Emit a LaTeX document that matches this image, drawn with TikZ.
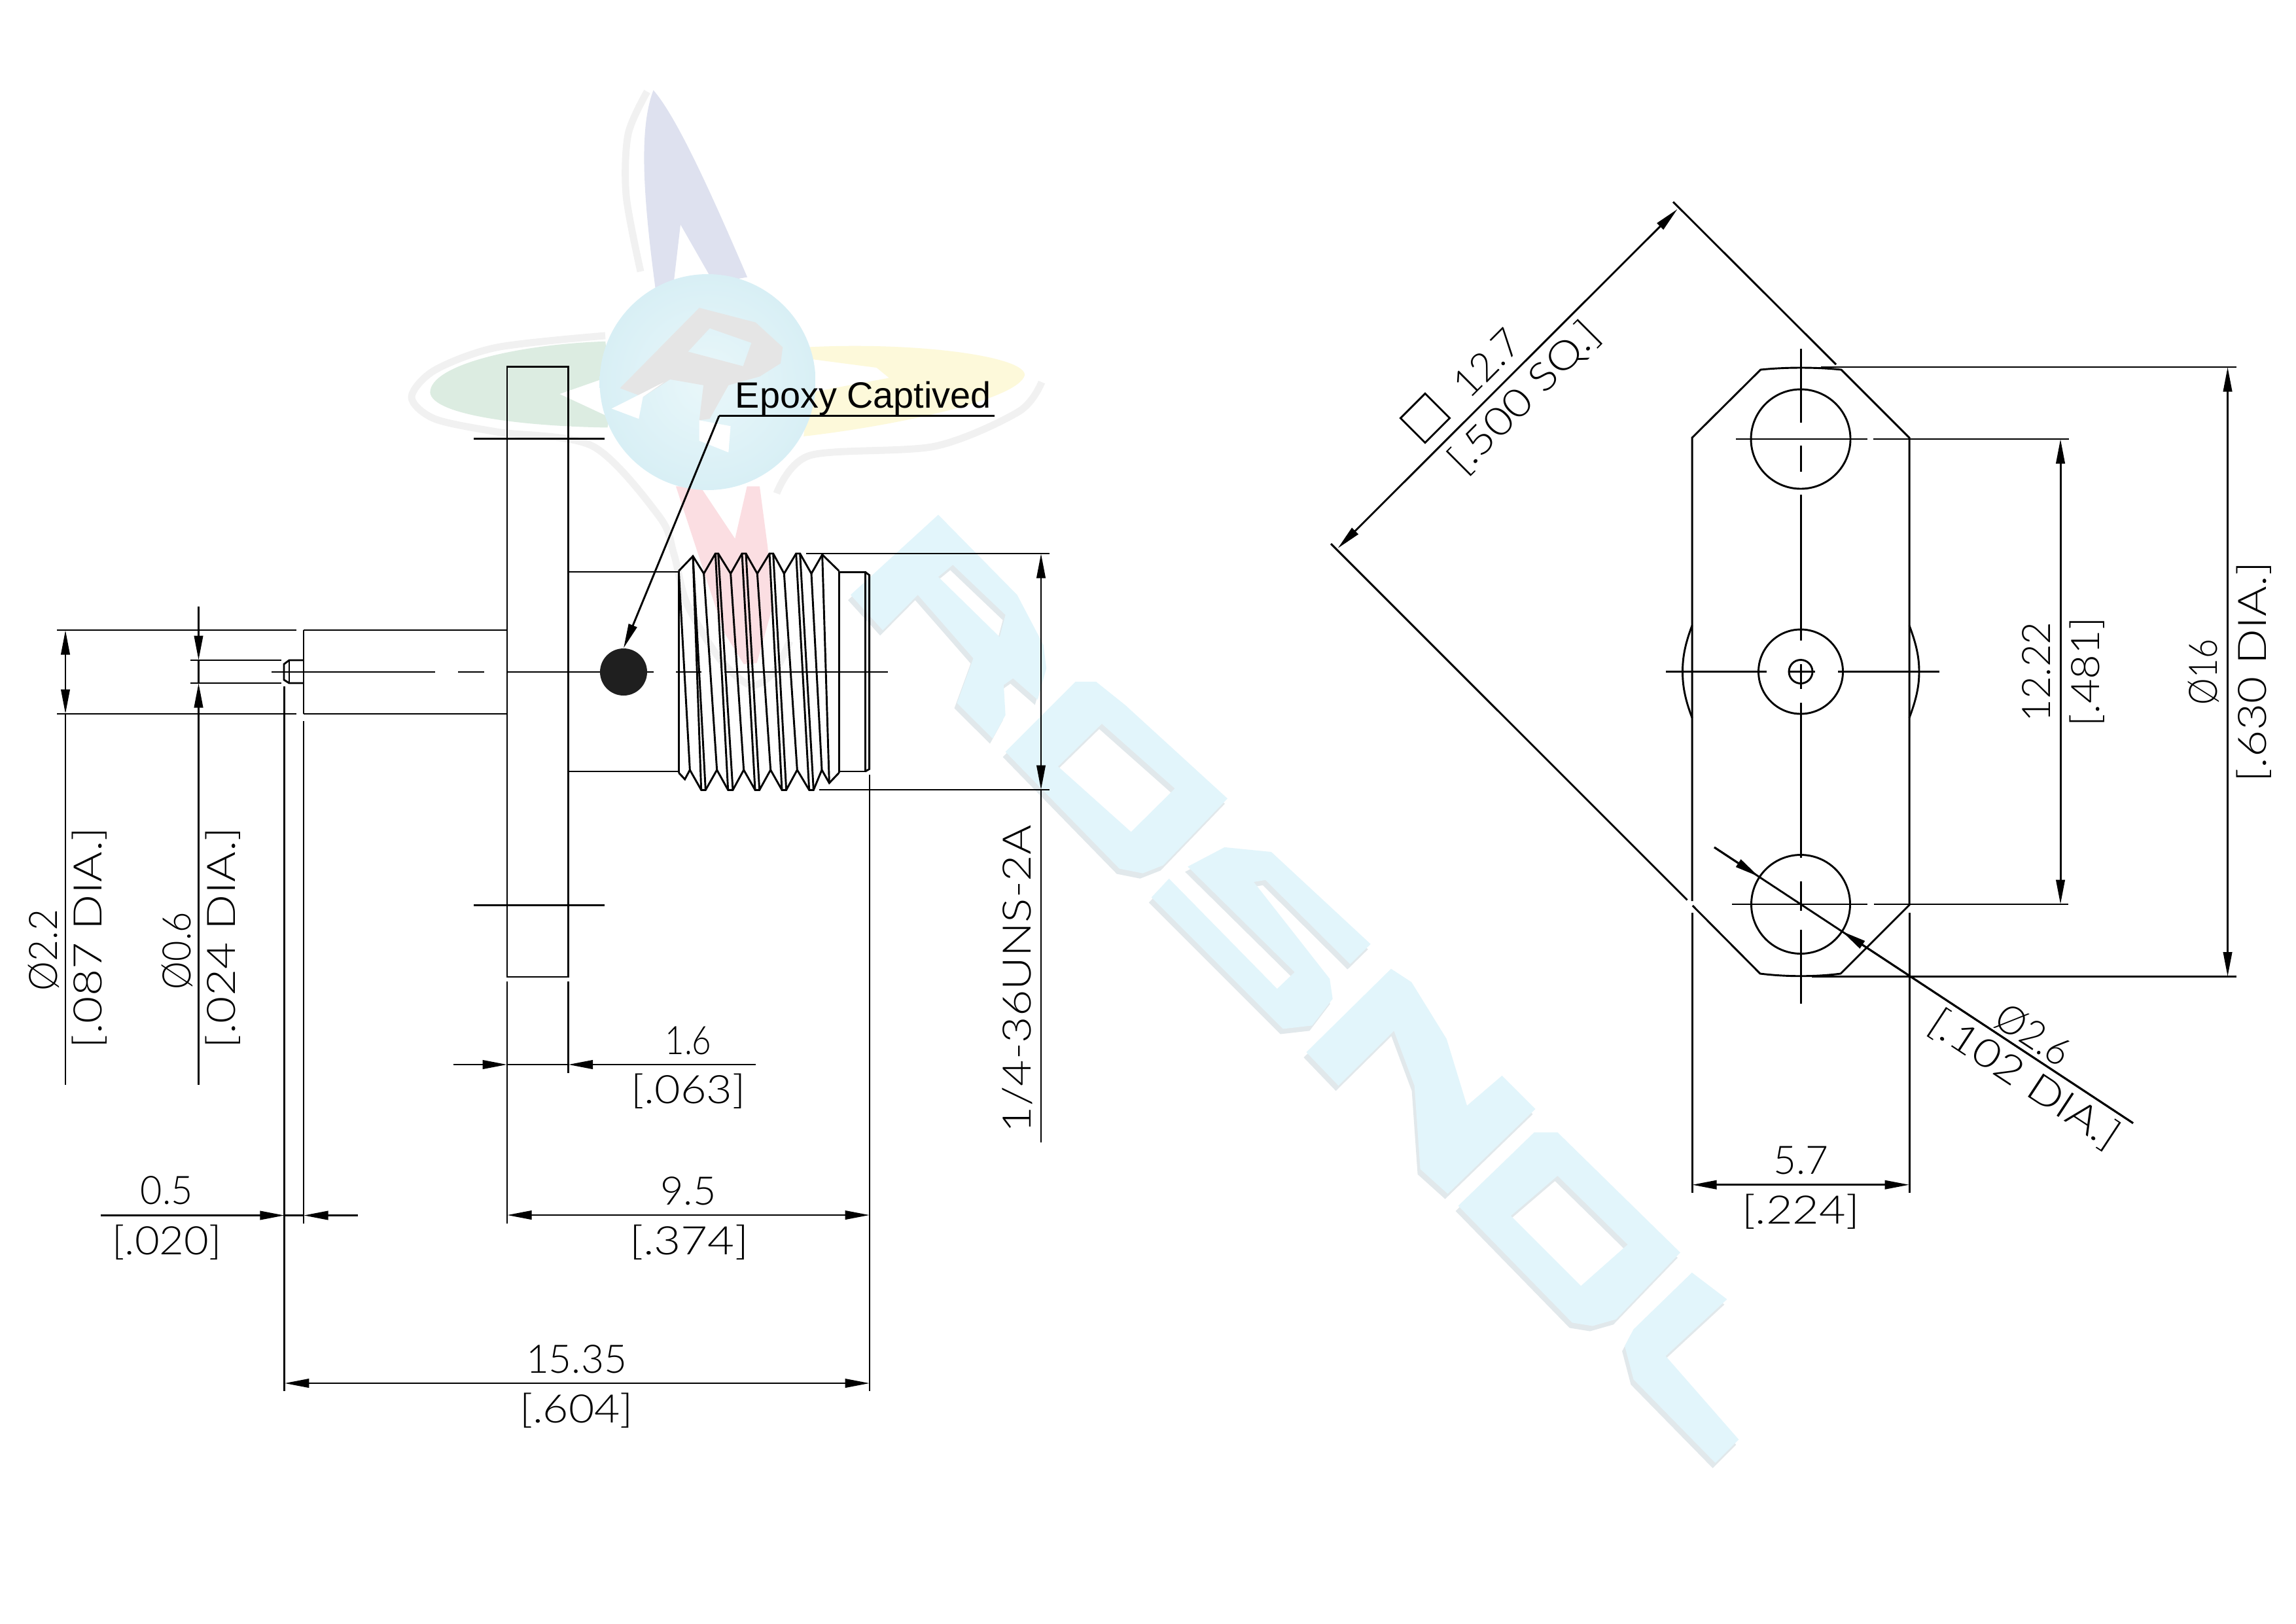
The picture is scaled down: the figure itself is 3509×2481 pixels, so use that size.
\documentclass[tikz,border=0pt]{standalone}
\usepackage{graphicx}
\usepackage{fontspec}
\usetikzlibrary{arrows.meta}
\newfontfamily\dimf{Lato Light}
\newfontfamily\epsf{Liberation Sans}
\newlength\pxu \setlength\pxu{.24pt}
\newlength\fitH
\newcommand\fit[2]{\setbox0=\hbox{\fontsize{14.4pt}{17pt}\dimf #2}\setlength\fitH{\ht0}\resizebox{#1\pxu}{\fitH}{\fontsize{14.4pt}{17pt}\dimf #2}}
\definecolor{wmcyan}{HTML}{E2F5FB}
\definecolor{wmshadow}{HTML}{E1E8EB}
\definecolor{wmblue}{HTML}{DEE1EF}
\definecolor{wmgreen}{HTML}{DCECE1}
\definecolor{wmyellow}{HTML}{FDF9DA}
\definecolor{wmpink}{HTML}{FBDEE2}
\definecolor{wmgrey}{HTML}{E5E5E5}
\definecolor{wmhalo}{HTML}{F1F1F1}
\definecolor{wmballin}{HTML}{E9F7FA}
\definecolor{wmballout}{HTML}{D8EFF5}
\tikzset{
  ln/.style={line width=.7pt,black,line cap=butt},
  dimtxt/.style={inner sep=0pt,text height=10.3pt,text depth=0pt,anchor=center},
  >={Triangle[length=9pt,width=3.2pt]},
  wmletter/.style={fill=wmcyan,even odd rule},
  wmshade/.style={fill=wmshadow,even odd rule}
}
\newcommand\letterR{(0,205) -- (150,85) -- (285,205) -- (330,280) -- (335,315) -- (320,362) -- (278,330) -- (262,340) -- (265,385) -- (243,420) -- (182,367) -- (210,300) -- (115,205) -- (55,258) -- cycle (175,160) -- (265,235) -- (255,268) -- (150,178) -- cycle}
\newcommand\letterO{(265,440) -- (385,335) -- (420,335) -- (470,370) -- (645,510) -- (535,610) -- (500,622) -- (460,615) -- cycle (355,462) -- (430,398) -- (555,495) -- (480,560) -- cycle}
\newcommand\letterS{(515,658) -- (740,855) -- (790,850) -- (825,810) -- (820,780) -- (690,635) -- (710,632) -- (855,758) -- (890,728) -- (720,590) -- (640,583) -- (577,612) -- (760,770) -- (730,795) -- (545,630) -- cycle}
\newcommand\letterN{(780,890) -- (925,765) -- (960,785) -- (1020,870) -- (1055,970) -- (1115,925) -- (1172,975) -- (1022,1102) -- (975,1065) -- (965,940) -- (930,858) -- (835,940) -- cycle}
\newcommand\letterOO{(1040,1120) -- (1170,1010) -- (1210,1010) -- (1420,1190) -- (1310,1290) -- (1270,1300) -- (1235,1295) -- cycle (1130,1135) -- (1210,1075) -- (1330,1178) -- (1250,1240) -- cycle}
\newcommand\letterL{(1440,1220) -- (1500,1260) -- (1395,1345) -- (1520,1470) -- (1480,1505) -- (1340,1380) -- (1325,1330) -- (1340,1305) -- cycle}
\begin{document}
\begin{tikzpicture}[x=.24pt,y=-.24pt]
\useasboundingbox (0,0) rectangle (3509,2481);
\fill[white] (0,0) rectangle (3509,2481);

% ---- watermark: logo halo
\draw[wmhalo,line width=2.6pt] plot[smooth] coordinates {(989,140) (960,205) (957,299) (979,415)};
\draw[wmhalo,line width=2.6pt] plot[smooth] coordinates {(925,513) (759,531) (664,566) (629,607) (664,640) (759,660) (906,682) (1008,790) (1030,847) (1050,923) (1100,1007) (1147,1047) (1183,1027) (1207,980)};
\draw[wmhalo,line width=2.6pt] plot[smooth] coordinates {(1187,754) (1238,696) (1429,682) (1557,629) (1592,584)};

\begin{scope}[shift={(600,120)},xscale=1/1.568,yscale=1/2.24]
  \fill[wmblue] (625,40) .. controls (680,130) and (760,380) .. (850,680) -- (770,700) -- (690,500) -- (672,720) -- (630,720) .. controls (600,400) and (590,170) .. (625,40) -- cycle;
  \fill[wmgreen] (510,900) .. controls (300,910) and (90,980) .. (90,1075) .. controls (95,1150) and (300,1190) .. (515,1195) -- (520,1160) -- (400,1080) -- (520,1020) -- cycle;
  \fill[wmyellow] (990,920) .. controls (1250,900) and (1515,950) .. (1515,1015) .. controls (1500,1100) and (1200,1190) .. (985,1225) -- (1000,1075) -- (1190,1025) -- (1160,990) -- (1000,960) -- cycle;
\end{scope}
\begin{scope}[shift={(950,780)},scale=1/3]
  \fill[wmpink] (249,-110) -- (360,-110) -- (520,130) -- (575,-110) -- (633,-110) -- (670,170) -- (690,450) -- (620,700) -- (560,705) -- (470,560) -- (400,350) -- cycle;
\end{scope}
\shade[inner color=wmballin,outer color=wmballout] (1081.5,584) circle[radius=165];
\begin{scope}[shift={(600,120)},xscale=1/1.568,yscale=1/2.24]
  \fill[wmgrey,even odd rule] (545,1060) -- (735,785) -- (870,835) -- (935,920) -- (930,975) -- (880,1020) -- (805,1050) -- (760,1165) -- (735,1170) -- (745,1050) -- (665,1030) -- (600,1090) -- cycle (760,855) -- (860,905) -- (840,985) -- (708,935) -- cycle;
  \fill[white] (525,1130) -- (650,1040) -- (600,1090) -- (590,1165) -- cycle;
  \fill[white] (735,1170) -- (810,1190) -- (805,1280) -- (735,1240) -- cycle;
\end{scope}

% ---- watermark: ROSNOL
\begin{scope}[shift={(1296,708)},xscale=1/1.12,yscale=1/.98]
  \fill[wmshade] \letterR; \fill[wmshade] \letterO; \fill[wmshade] \letterS;
  \fill[wmshade] \letterN; \fill[wmshade] \letterOO; \fill[wmshade] \letterL;
\end{scope}
\begin{scope}[shift={(1300,700)},xscale=1/1.12,yscale=1/.98]
  \fill[wmletter] \letterR; \fill[wmletter] \letterO; \fill[wmletter] \letterS;
  \fill[wmletter] \letterN; \fill[wmletter] \letterOO; \fill[wmletter] \letterL;
\end{scope}

% ---- side view
\begin{scope}[ln]
\draw (775,560.6) rectangle (868.5,1493);
\draw (724,670.4) -- (924,670.4);
\draw (724,1383.6) -- (924,1383.6);
\draw (464,963) -- (775,963);
\draw (464,1091) -- (775,1091);
\draw (464,963) -- (464,1091);
\draw (464,1009) -- (442,1009) -- (434,1015) -- (434,1039) -- (442,1044) -- (464,1044);
\draw (442,1009) -- (442,1044);
\draw (868.5,874) -- (1037,874);
\draw (868.5,1179) -- (1037,1179);
% centre line
\draw (415,1027) -- (665,1027);
\draw (700,1027) -- (739.5,1027);
\draw (776,1027) -- (998.5,1027);
\draw (1033,1027) -- (1072,1027);
\draw (1107,1027) -- (1357,1027);
\end{scope}
\fill[black!88] (953,1027) circle[radius=36];

% thread
\begin{scope}[shift={(950,780)},scale=1/3,ln]
\draw (262,278) -- (327,210) -- (377,290) -- (430,198) -- (443,198) -- (500,290) -- (552,198) -- (570,198) -- (622,290) -- (678,198) -- (695,198) -- (745,290) -- (800,198) -- (818,198) -- (870,290) -- (920,203) -- (997,278);
\draw (262,1203) -- (290,1233) -- (313,1190) -- (365,1282) -- (385,1282) -- (437,1190) -- (488,1282) -- (510,1282) -- (560,1190) -- (612,1282) -- (632,1282) -- (683,1190) -- (735,1282) -- (755,1282) -- (805,1190) -- (860,1282) -- (880,1282) -- (918,1190) -- (952,1250) -- (997,1203);
\draw (262,278) -- (262,1203);
\draw (262,278) -- (313,1190);
\draw (377,290) -- (437,1190);
\draw (500,290) -- (560,1190);
\draw (622,290) -- (683,1190);
\draw (745,290) -- (805,1190);
\draw (870,290) -- (918,1190);
\draw (327,210) -- (365,1282);
\draw (327,210) -- (385,1282);
\draw (430,198) -- (488,1282);
\draw (443,198) -- (510,1282);
\draw (552,198) -- (612,1282);
\draw (570,198) -- (632,1282);
\draw (678,198) -- (735,1282);
\draw (695,198) -- (755,1282);
\draw (800,198) -- (860,1282);
\draw (818,198) -- (880,1282);
\draw (920,203) -- (952,1250);
\draw (997,278) -- (997,1203);
\draw (997,283) -- (1117,283) -- (1117,1197) -- (997,1197);
\draw (1117,283) -- (1136,297) -- (1136,1186) -- (1117,1197);
\end{scope}

% side view dimensions
\begin{scope}[ln]
\draw (87,963) -- (453,963);
\draw (87,1091) -- (453,1091);
\draw[<->] (100,963) -- (100,1091);
\draw (100,1091) -- (100,1658);
\draw (291,1009) -- (430,1009);
\draw (291,1044) -- (430,1044);
\draw[->] (303.5,927) -- (303.5,1009);
\draw[->] (303.5,1658) -- (303.5,1044);
\draw (303.5,1009) -- (303.5,1044);
\draw (434.8,1049) -- (434.8,2126);
\draw (464,1102) -- (464,1870);
\draw (775,1500) -- (775,1870);
\draw (868.5,1500) -- (868.5,1640);
\draw (1329,1184) -- (1329,2126);
\draw[->] (154,1857.5) -- (434.8,1857.5);
\draw[->] (547,1857.5) -- (464,1857.5);
\draw (434.8,1857.5) -- (464,1857.5);
\draw[->] (692.5,1627) -- (775,1627);
\draw[->] (1155,1627) -- (868.5,1627);
\draw (775,1627) -- (868.5,1627);
\draw[<->] (775,1857) -- (1329,1857);
\draw[<->] (434.8,2114) -- (1329,2114);
\draw (1232,846) -- (1604,846);
\draw (1252,1207) -- (1604,1207);
\draw[<->] (1591,846) -- (1591,1207);
\draw (1591,1207) -- (1591,1746);
\draw (1520,635.6) -- (1099,635.6);
\draw[->] (1099,635.6) -- (953,990.5);
\end{scope}

\node[dimtxt,rotate=90] (t22) at (66,1452) {\fit{124}{Ø2.2}};
\node[dimtxt,rotate=90] (t087) at (134,1433) {\fit{338}{[.087 DIA.]}};
\node[dimtxt,rotate=90] (t06) at (270,1453) {\fit{118}{Ø0.6}};
\node[dimtxt,rotate=90] (t024) at (338,1433) {\fit{338}{[.024 DIA.]}};
\node[dimtxt] (t05) at (255,1819) {\fit{80}{0.5}};
\node[dimtxt] (t020) at (255,1896) {\fit{167}{[.020]}};
\node[dimtxt] (t16) at (1052,1590) {\fit{71}{1.6}};
\node[dimtxt] (t063) at (1052,1665) {\fit{175}{[.063]}};
\node[dimtxt] (t95) at (1052,1820) {\fit{85}{9.5}};
\node[dimtxt] (t374) at (1053,1896) {\fit{182}{[.374]}};
\node[dimtxt] (t1535) at (881,2077) {\fit{154}{15.35}};
\node[dimtxt] (t604) at (881,2153) {\fit{174}{[.604]}};
\node[dimtxt,rotate=90] (tuns) at (1554,1496) {\fit{470}{1/4-36UNS-2A}};
\node[inner sep=0pt,anchor=base west] (tepoxy) at (1123,623.6) {\fontsize{13.4pt}{16pt}\epsf Epoxy Captived};

% ---- front view
\begin{scope}[ln]
\draw (2586,1377) -- (2586,669) -- (2690.7,565) .. controls (2730,561) and (2775,561) .. (2814,565) -- (2918,669) -- (2918,1383) -- (2813,1488) .. controls (2775,1493) and (2730,1493) .. (2690,1488) -- (2586.7,1384);
\draw (2918,956) .. controls (2929,985) and (2933,1005) .. (2933,1026.5) .. controls (2933,1048) and (2929,1068) .. (2918,1097);
\draw (2586,956) .. controls (2575,985) and (2571.5,1005) .. (2571.5,1026.5) .. controls (2571.5,1048) and (2575,1068) .. (2586,1097);
\draw (2752,671) circle[radius=76];
\draw (2752,1382) circle[radius=75.5];
\draw (2752,1026.5) circle[radius=64.5];
\draw (2752,1026.5) circle[radius=18];
\draw (2653,671) -- (2854,671);
\draw (2647,1382) -- (2853.6,1382);
\draw (2546,1026.5) -- (2700,1026.5);
\draw (2735,1026.5) -- (2774,1026.5);
\draw (2809,1026.5) -- (2964,1026.5);
\draw (2752,533) -- (2752,646);
\draw (2752,681) -- (2752,721);
\draw (2752,756) -- (2752,979);
\draw (2752,1015) -- (2752,1053);
\draw (2752,1074) -- (2752,1311);
\draw (2752,1347) -- (2752,1392);
\draw (2752,1421) -- (2752,1534);
% dimensions
\draw (2863,671) -- (3162,671);
\draw (2864,1382) -- (3161,1382);
\draw (2783,561) -- (3418,561);
\draw (2769,1492.5) -- (3418,1492.5);
\draw[<->] (3149,671) -- (3149,1382);
\draw[<->] (3404.5,561) -- (3404.5,1492.5);
\draw (2586,1395) -- (2586,1823);
\draw (2918,1395) -- (2918,1823);
\draw[<->] (2586,1810.7) -- (2918,1810.7);
\draw (2557,308.5) -- (2806,557);
\draw (2034,831) -- (2578.6,1375.5);
\draw[<->] (2044.5,838) -- (2563.7,319.5);
\draw (2178,601.4) -- (2215.6,639) -- (2178,676.6) -- (2140.4,639) -- cycle;
\draw (2620,1295) -- (3260,1716.5);
\draw[->] (2620,1295) -- (2688,1339.7);
\draw[->] (3260,1716.5) -- (2815,1423.3);
\end{scope}

\node[dimtxt,rotate=45] (t127) at (2272,555) {\fit{118}{12.7}};
\node[dimtxt,rotate=45] (t500) at (2328,606) {\fit{300}{[.500 SQ.]}};
\node[dimtxt,rotate=90] (t1222) at (3112,1027) {\fit{153}{12.22}};
\node[dimtxt,rotate=90] (t481) at (3187,1027) {\fit{167}{[.481]}};
\node[dimtxt,rotate=90] (t16d) at (3367,1027) {\fit{100}{Ø16}};
\node[dimtxt,rotate=90] (t630) at (3442,1027) {\fit{337}{[.630 DIA.]}};
\node[dimtxt,rotate=-33.4] (t26) at (3108,1581) {\fit{123}{Ø2.6}};
\node[dimtxt,rotate=-33.4] (t102) at (3095,1648) {\fit{335}{[.102 DIA.]}};
\node[dimtxt] (t57) at (2752,1773) {\fit{84}{5.7}};
\node[dimtxt] (t224) at (2752,1849) {\fit{180}{[.224]}};
\end{tikzpicture}
\end{document}
